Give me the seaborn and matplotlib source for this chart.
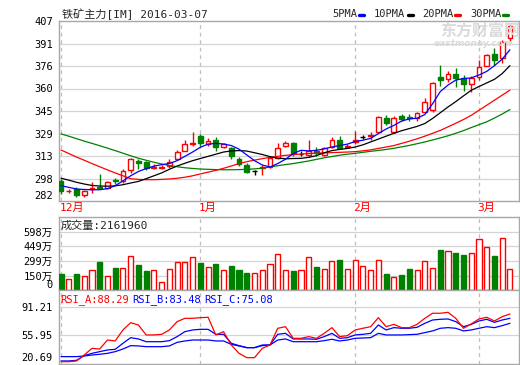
import numpy as np
import matplotlib
matplotlib.use("Agg")
import matplotlib.pyplot as plt
import matplotlib.transforms as mtransforms
from matplotlib.lines import Line2D
import seaborn as sns

# ---------------- data ----------------
title_text = "铁矿主力[IM] 2016-03-07"
month_labels = ["12月", "1月", "2月", "3月"]
month_start_idx = [0, 18, 38, 54]

opens = [296, 288.8, 290.5, 286.2, 290.5, 291.5, 291, 296.2, 296, 303.5,
         309.5, 309.3, 305, 305.2, 306.5, 311.5, 317, 321.5, 327, 321.8,
         324.4, 319.5, 318.6, 311.5, 307, 302.5, 304.8, 305.8, 311.6, 320.2,
         322, 314.5, 314, 317, 314, 319.8, 324.4, 319.5, 322.8, 326.6,
         327, 330.2, 339.4, 330.2, 341, 340.3, 339.9, 344, 345.2, 368.3,
         366.7, 370, 367.6, 363, 368.3, 376, 384, 381.5, 395]
highs = [297, 290.1, 291.5, 289.8, 295, 300.5, 296, 298, 304, 311.8,
         311, 310, 307.5, 307, 311, 317.5, 324.5, 330, 328.5, 326,
         326.5, 322, 319.7, 312.8, 308.5, 303.5, 307, 313, 322.5, 324,
         323, 316.5, 324.4, 319.5, 319.5, 326.6, 327, 321.5, 330.7, 328,
         329.7, 341.3, 341.7, 341, 342.5, 342.2, 343.5, 353.3, 364.6, 376.4,
         372.3, 374.6, 369.5, 368.5, 380, 384, 388, 393.8, 404.5]
lows = [287, 287.3, 284.5, 284.5, 287.5, 290, 290.5, 294, 294.5, 301.5,
        304, 303.5, 304, 304, 305, 310.5, 316.5, 320, 320, 320,
        317, 318.5, 311, 306.3, 301.5, 300, 300.3, 305, 311, 319.5,
        313.5, 313, 312.8, 313, 313, 318.6, 318, 318.8, 321.5, 325,
        324.4, 329.7, 334.8, 329, 337.5, 337.6, 337.5, 342.9, 343.5, 362,
        364.8, 361.4, 358.4, 358, 366, 375.5, 376.4, 377.6, 392]
closes = [289, 289.2, 286, 288.8, 291, 291, 295.5, 296, 303, 311,
          308.5, 304.8, 305.5, 305.8, 309, 316.3, 321.5, 322, 322.5, 324,
          319.4, 321.4, 313.5, 307.7, 302, 302.5, 305.5, 311.6, 318.6, 322.5,
          315, 314.5, 316.7, 315.3, 319, 324.4, 319, 320.5, 324.4, 326.6,
          327.5, 340.6, 336, 339.4, 339, 339.8, 342.9, 350.5, 363.7, 366,
          370, 367.2, 363, 367.2, 375.3, 383.4, 380, 392.2, 403.7]

ma5 = [292.6, 291.5, 290.3, 290.0, 289.8, 289.8, 290.6, 292.6, 296.0, 299.5,
       302.5, 304.5, 306.2, 307.2, 308.0, 310.0, 313.0, 316.0, 319.3, 321.5,
       322.0, 321.6, 320.5, 318.0, 314.0, 310.0, 307.0, 305.6, 308.0, 311.0,
       315.0, 317.2, 316.8, 317.2, 318.2, 319.5, 320.5, 321.5, 323.3, 324.2,
       325.5, 328.8, 332.0, 334.5, 337.5, 339.0, 339.5, 342.0, 349.5, 358.0,
       362.5, 366.0, 367.0, 367.5, 369.5, 372.0, 376.0, 380.5, 387.0]
ma10 = [297.8, 296.5, 295.0, 293.8, 292.8, 292.4, 292.3, 292.5, 293.3, 294.5,
        295.6, 297.5, 299.5, 301.5, 304.0, 306.3, 308.2, 310.0, 311.5, 313.0,
        314.5, 316.0, 316.8, 317.0, 316.7, 315.5, 314.3, 312.8, 311.8, 311.3,
        311.5, 311.6, 312.3, 313.5, 315.5, 317.0, 317.8, 318.5, 319.5, 321.0,
        323.0, 325.0, 327.0, 329.0, 330.8, 332.3, 333.8, 335.8, 339.3, 343.3,
        347.3, 351.0, 355.0, 358.9, 361.5, 364.0, 366.5, 370.5, 376.0]
ma20 = [317.4, 315.0, 312.5, 310.3, 308.0, 305.8, 303.6, 301.5, 299.5, 297.5,
        297.0, 296.8, 296.8, 297.0, 297.3, 297.8, 298.5, 299.5, 300.8, 302.0,
        303.3, 304.7, 306.3, 308.0, 309.3, 310.4, 311.4, 312.3, 313.0, 313.7,
        314.2, 314.6, 315.0, 315.2, 315.4, 315.6, 315.8, 316.0, 316.3, 316.8,
        317.5, 318.5, 319.5, 320.5, 322.0, 323.5, 325.2, 327.0, 329.0, 331.0,
        333.5, 336.0, 338.6, 341.5, 345.0, 348.5, 352.0, 355.5, 359.0]
ma30 = [328.6, 327.0, 325.3, 323.6, 322.0, 320.4, 318.7, 317.0, 315.2, 313.4,
        311.7, 310.3, 308.9, 307.7, 306.7, 305.8, 305.1, 304.6, 304.2, 304.0,
        303.8, 303.7, 303.7, 303.8, 304.0, 304.3, 304.8, 305.6, 306.5, 307.3,
        308.0, 308.9, 309.8, 310.9, 312.0, 312.9, 313.8, 314.5, 315.1, 315.8,
        316.5, 317.1, 317.8, 318.6, 319.6, 320.6, 321.8, 323.0, 324.4, 325.8,
        327.3, 329.0, 330.9, 333.0, 335.0, 337.0, 339.6, 342.4, 345.5]

# volume in 万
volumes = [164, 120, 164, 150, 212, 287, 150, 225, 232, 348,
           256, 195, 202, 82, 222, 284, 290, 335, 280, 236,
           266, 212, 246, 205, 177, 177, 212, 266, 369, 202,
           195, 212, 335, 236, 222, 294, 307, 222, 314, 243,
           202, 304, 164, 140, 154, 215, 202, 294, 232, 410,
           396, 379, 358, 376, 519, 437, 348, 529, 216.196]
last_volume = 2161960

rsi_a = [22.7, 22.7, 23.6, 31.0, 39.3, 38.5, 49.7, 48.5, 62.2, 71.3,
         68.4, 56.0, 56.0, 56.8, 62.2, 72.6, 76.7, 76.7, 77.5, 78.0,
         56.0, 60.1, 43.5, 33.1, 27.7, 27.7, 39.3, 43.5, 64.3, 66.3,
         51.8, 51.8, 53.9, 51.8, 58.0, 65.1, 53.9, 55.1, 62.2, 64.3,
         66.3, 77.5, 66.3, 69.2, 65.1, 65.1, 69.2, 76.7, 83.0, 83.0,
         84.2, 76.7, 64.3, 69.7, 75.9, 78.0, 73.4, 78.8, 82.1]
rsi_b = [23.6, 23.6, 24.4, 30.2, 33.1, 35.2, 37.3, 38.1, 45.6, 52.6,
         51.0, 47.6, 47.6, 47.6, 48.9, 53.9, 60.1, 62.2, 63.0, 63.0,
         56.8, 56.8, 45.6, 42.7, 40.2, 40.2, 43.5, 43.5, 56.8, 58.0,
         51.0, 51.0, 51.0, 50.6, 53.9, 58.0, 51.8, 52.6, 56.0, 56.8,
         58.0, 68.4, 62.2, 65.1, 64.3, 64.3, 65.5, 70.5, 74.6, 75.5,
         75.9, 72.6, 66.3, 69.2, 73.4, 75.5, 71.7, 74.6, 76.7]
rsi_c = [29.0, 29.0, 29.0, 29.8, 31.0, 31.9, 33.1, 35.2, 38.5, 42.7,
         42.3, 41.4, 41.4, 41.4, 42.3, 46.8, 48.5, 49.7, 49.7, 49.7,
         48.5, 48.5, 44.3, 42.3, 40.2, 40.2, 42.7, 43.5, 49.7, 51.0,
         47.6, 47.6, 47.6, 47.6, 48.9, 50.6, 48.5, 49.7, 51.8, 52.2,
         52.6, 58.0, 56.0, 56.0, 56.0, 56.4, 56.8, 58.9, 61.0, 64.3,
         65.1, 64.3, 61.0, 62.2, 64.3, 66.3, 65.1, 67.6, 70.5]
rsi_legend_values = [88.29, 83.48, 75.08]

price_ticks = [282, 297.625, 313.25, 328.875, 344.5, 360.125, 375.75, 391.375, 407]
price_tick_labels = ["282", "298", "313", "329", "345", "360", "376", "391", "407"]
vol_ticks = [0, 149.5, 299, 448.5, 598]
vol_tick_labels = ["0", "150万", "299万", "449万", "598万"]
rsi_ticks = [20.69, 55.95, 91.21]
rsi_tick_labels = ["20.69", "55.95", "91.21"]

# ---------------- style ----------------
sns.set_style("white")
FONT = ["DejaVu Sans Mono", "Noto Sans CJK SC"]
plt.rcParams["font.family"] = FONT
plt.rcParams["font.size"] = 7.5

RED = "#FF0000"
GREEN = "#008000"
BLUE = "#0000FF"
GRID = "#D4D4D4"
SPINE = "#A8A8A8"

W, H = 520, 365
fig = plt.figure(figsize=(W / 100, H / 100), dpi=100)
fig.patch.set_facecolor("white")


def axes_px(left, top, right, bottom):
    return fig.add_axes([left / W, 1 - bottom / H, (right - left) / W, (bottom - top) / H])


ax_p = axes_px(59, 21, 519, 201)
ax_v = axes_px(59, 217, 519, 290.3)
ax_r = axes_px(59, 290.3, 519, 364)

n = len(closes)
idx = np.arange(n)
xlim = (-0.26, 59.17)

for ax in (ax_p, ax_v, ax_r):
    ax.set_xlim(*xlim)
    ax.set_facecolor("white")
    for s in ax.spines.values():
        s.set_color(SPINE)
        s.set_linewidth(1.0)
    ax.set_xticks([])
    ax.tick_params(axis="y", length=3, width=0.8, color=SPINE, pad=1.5,
                   labelsize=7.5, labelcolor="black")
    for m in month_start_idx:
        ax.axvline(m, color="#BEBEBE", lw=0.9, ls=(0, (3, 3)), zorder=1)

# ---------------- price panel ----------------
ax_p.set_ylim(282, 407)
ax_p.set_yticks(price_ticks)
ax_p.set_yticklabels(price_tick_labels)
for t in price_ticks[1:-1]:
    ax_p.axhline(t, color=GRID, lw=0.9, zorder=0)

o = np.array(opens); c = np.array(closes)
h = np.array(highs); l = np.array(lows)
up = c > o
down = c < o
flat = c == o
wick_colors = np.where(up, RED, np.where(down, GREEN, "black"))
ax_p.vlines(idx, l, h, colors=wick_colors, lw=1.0, zorder=3)
bw = 0.62
body_bottom = np.minimum(o, c)
body_h = np.maximum(np.abs(c - o), 0.25)
ax_p.bar(idx[up], body_h[up], bottom=body_bottom[up], width=bw,
         facecolor="white", edgecolor=RED, lw=1.0, zorder=4)
ax_p.bar(idx[down], body_h[down], bottom=body_bottom[down], width=bw,
         facecolor=GREEN, edgecolor=GREEN, lw=1.0, zorder=4)
ax_p.hlines(c[flat], idx[flat] - bw / 2, idx[flat] + bw / 2, colors="black", lw=1.0, zorder=4)

for series, col in ((ma30, GREEN), (ma20, RED), (ma10, "black"), (ma5, BLUE)):
    sns.lineplot(x=idx, y=series, ax=ax_p, color=col, lw=0.9, legend=False, zorder=5)
ax_p.set_xlabel(""); ax_p.set_ylabel("")

trans = mtransforms.blended_transform_factory(ax_p.transData, ax_p.transAxes)
for m, lab in zip(month_start_idx, month_labels):
    ax_p.text(m - 0.2, -0.04, lab, transform=trans, color=RED, ha="left", va="center",
              fontsize=8, family=FONT, clip_on=False)

# title & legend
fig.text(62 / W, 1 - 14 / H, title_text, ha="left", va="center", fontsize=8, family=FONT)
legend_items = [("5PMA", BLUE, 332, 359), ("10PMA", "black", 374, 408),
                ("20PMA", RED, 422, 455), ("30PMA", GREEN, 470, 503)]
for lab, col, tx, dx in legend_items:
    fig.text(tx / W, 1 - 14 / H, lab, ha="left", va="center", fontsize=7.5, family=FONT)
    fig.add_artist(Line2D([dx / W, (dx + 5) / W], [1 - 14.5 / H, 1 - 14.5 / H],
                          color=col, lw=2.4, transform=fig.transFigure))

# watermark
fig.text(480 / W, 1 - 31 / H, "东方财富网", ha="center", va="center", fontsize=11.5,
         color="#DADADA", family=["Noto Sans CJK SC"], fontweight="bold", zorder=0)
fig.text(473 / W, 1 - 44 / H, "eastmoney.com", ha="center", va="center", fontsize=6.5,
         color="#DADADA", family=["DejaVu Sans"], fontweight="bold", style="italic", zorder=0)

# ---------------- volume panel ----------------
v = np.array(volumes)
vup = c >= o
ax_v.set_ylim(0, 747.5)
ax_v.set_yticks(vol_ticks)
ax_v.set_yticklabels(vol_tick_labels)
for t in vol_ticks[1:]:
    ax_v.axhline(t, color=GRID, lw=0.9, zorder=0)
ax_v.bar(idx[vup], v[vup], width=0.66, facecolor="white", edgecolor=RED, lw=1.0, zorder=3)
ax_v.bar(idx[~vup], v[~vup], width=0.66, facecolor=GREEN, edgecolor=GREEN, lw=1.0, zorder=3)
ax_v.text(0.003, 1 - 9 / 73.3, f"成交量:{last_volume}", transform=ax_v.transAxes,
          ha="left", va="center", fontsize=8, family=FONT)

# ---------------- RSI panel ----------------
ax_r.set_ylim(19.82, 111.6)
ax_r.set_yticks(rsi_ticks)
ax_r.set_yticklabels(rsi_tick_labels)
for t in rsi_ticks[1:]:
    ax_r.axhline(t, color=GRID, lw=0.9, zorder=0)
sns.lineplot(x=idx, y=rsi_c, ax=ax_r, color=BLUE, lw=0.9, legend=False, zorder=3)
sns.lineplot(x=idx, y=rsi_b, ax=ax_r, color=BLUE, lw=0.9, legend=False, zorder=3)
sns.lineplot(x=idx, y=rsi_a, ax=ax_r, color=RED, lw=0.9, legend=False, zorder=4)
ax_r.set_xlabel(""); ax_r.set_ylabel("")
rsi_names = ["RSI_A", "RSI_B", "RSI_C"]
rsi_cols = [RED, BLUE, BLUE]
rsi_x = [60, 132, 204]
for name, val, col, xp in zip(rsi_names, rsi_legend_values, rsi_cols, rsi_x):
    fig.text(xp / W, 1 - 300 / H, f"{name}:{val:.2f}", color=col, ha="left", va="center",
             fontsize=7.5, family=FONT)

# bottom tick labels nudged up to stay inside the panels
for ax in (ax_p, ax_v, ax_r):
    ax.get_yticklabels()[0].set_va("bottom")
    ax.set_xlim(*xlim)

fig.savefig("out.png", dpi=100)
